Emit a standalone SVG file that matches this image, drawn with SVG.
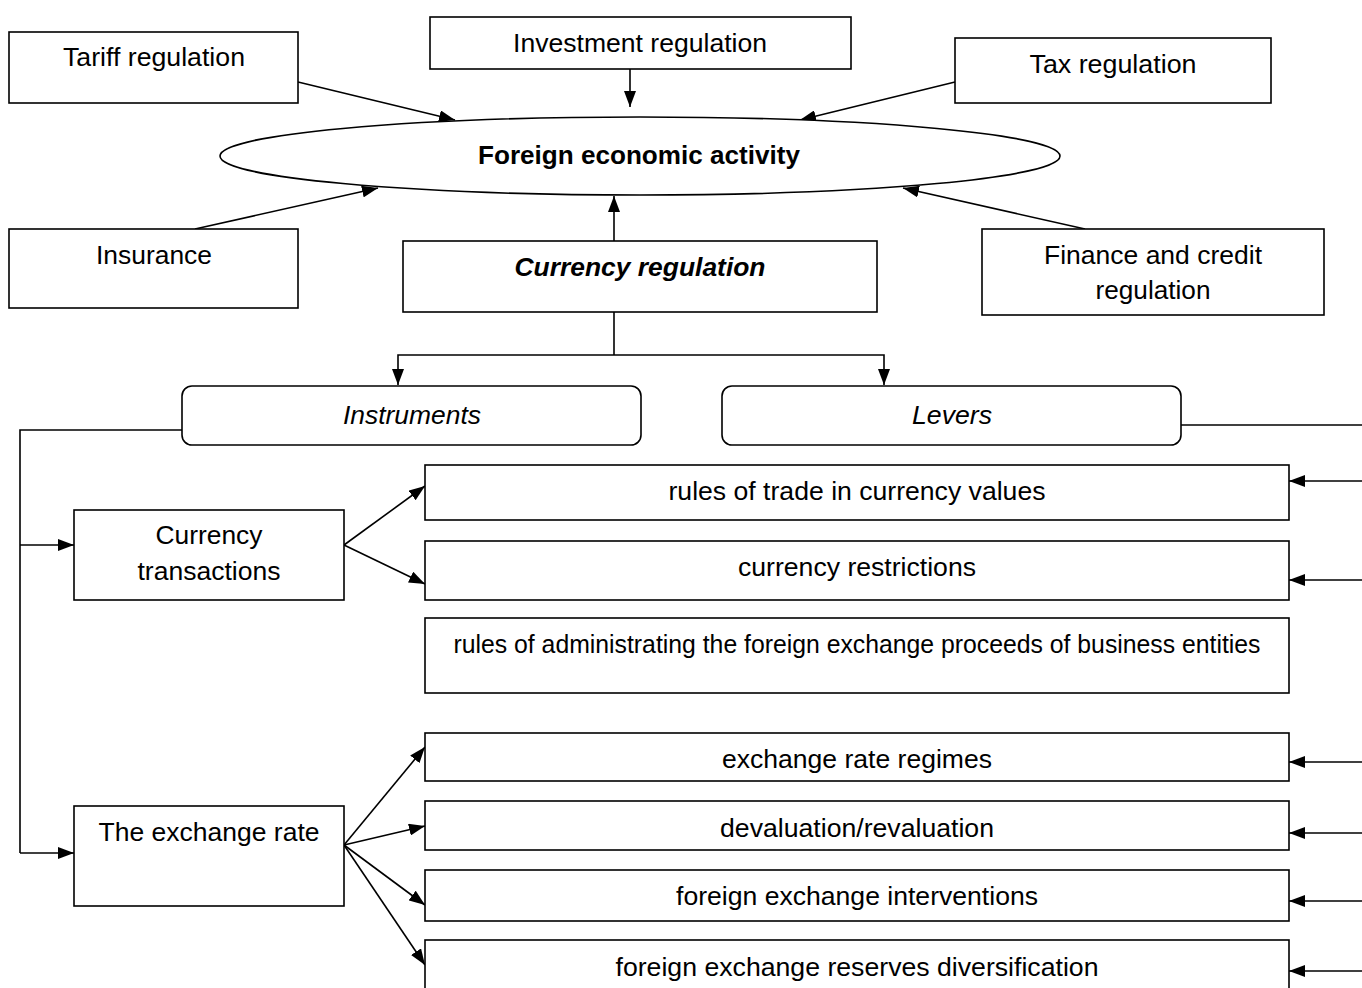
<svg xmlns="http://www.w3.org/2000/svg" width="1362" height="988" viewBox="0 0 1362 988">
<style>
.b{fill:#fff;stroke:#000;stroke-width:1.6}
.t{font-family:"Liberation Sans",Arial,sans-serif;font-size:25px;fill:#000;text-anchor:middle}
.c{fill:none;stroke:#000;stroke-width:1.6}
</style>
<defs>
<marker id="a" viewBox="0 0 16 12" refX="16" refY="6" markerWidth="16" markerHeight="12" markerUnits="userSpaceOnUse" orient="auto">
<path d="M0,0L16,6L0,12z" fill="#000"/>
</marker>
</defs>
<rect width="1362" height="988" fill="#fff"/>
<g id="connectors">
<path class="c" d="M298,82L455,120" marker-end="url(#a)"/>
<path class="c" d="M630,69L630,107" marker-end="url(#a)"/>
<path class="c" d="M955,82L800,120" marker-end="url(#a)"/>
<path class="c" d="M195,229L378,188" marker-end="url(#a)"/>
<path class="c" d="M614,241L614,196" marker-end="url(#a)"/>
<path class="c" d="M1085,229L903,188" marker-end="url(#a)"/>
<path class="c" d="M614,312L614,355"/>
<path class="c" d="M614,355L398,355L398,385" marker-end="url(#a)"/>
<path class="c" d="M614,355L884,355L884,385" marker-end="url(#a)"/>
<path class="c" d="M182,430L20,430L20,853"/>
<path class="c" d="M20,545L74,545" marker-end="url(#a)"/>
<path class="c" d="M20,853L74,853" marker-end="url(#a)"/>
<path class="c" d="M1181,425L1362,425"/>
<path class="c" d="M344,545L425,486" marker-end="url(#a)"/>
<path class="c" d="M344,545L425,584" marker-end="url(#a)"/>
<path class="c" d="M344,845L425,747" marker-end="url(#a)"/>
<path class="c" d="M344,845L425,826" marker-end="url(#a)"/>
<path class="c" d="M344,845L425,905" marker-end="url(#a)"/>
<path class="c" d="M344,845L425,965" marker-end="url(#a)"/>
<path class="c" d="M1362,481L1289,481" marker-end="url(#a)"/>
<path class="c" d="M1362,580L1289,580" marker-end="url(#a)"/>
<path class="c" d="M1362,762L1289,762" marker-end="url(#a)"/>
<path class="c" d="M1362,833L1289,833" marker-end="url(#a)"/>
<path class="c" d="M1362,901L1289,901" marker-end="url(#a)"/>
<path class="c" d="M1362,971L1289,971" marker-end="url(#a)"/>
</g>
<g id="fea"><ellipse class="b" cx="640" cy="156" rx="420" ry="39"/><text class="t" x="639" y="164" font-weight="bold" textLength="322" lengthAdjust="spacingAndGlyphs">Foreign economic activity</text></g>
<g id="tariff"><rect class="b" x="9" y="32" width="289" height="71"/><text class="t" x="154" y="66" textLength="182" lengthAdjust="spacingAndGlyphs">Tariff regulation</text></g>
<g id="investment"><rect class="b" x="430" y="17" width="421" height="52"/><text class="t" x="640" y="52" textLength="254" lengthAdjust="spacingAndGlyphs">Investment regulation</text></g>
<g id="tax"><rect class="b" x="955" y="38" width="316" height="65"/><text class="t" x="1113" y="73" textLength="167" lengthAdjust="spacingAndGlyphs">Tax regulation</text></g>
<g id="insurance"><rect class="b" x="9" y="229" width="289" height="79"/><text class="t" x="154" y="264" textLength="116" lengthAdjust="spacingAndGlyphs">Insurance</text></g>
<g id="currency"><rect class="b" x="403" y="241" width="474" height="71"/><text class="t" x="640" y="276" font-weight="bold" font-style="italic" textLength="251" lengthAdjust="spacingAndGlyphs">Currency regulation</text></g>
<g id="finance"><rect class="b" x="982" y="229" width="342" height="86"/><text class="t" x="1153" y="264" textLength="218" lengthAdjust="spacingAndGlyphs">Finance and credit</text><text class="t" x="1153" y="299" textLength="115" lengthAdjust="spacingAndGlyphs">regulation</text></g>
<g id="instruments"><rect class="b" x="182" y="386" width="459" height="59" rx="10"/><text class="t" x="412" y="424" font-style="italic" textLength="138" lengthAdjust="spacingAndGlyphs">Instruments</text></g>
<g id="levers"><rect class="b" x="722" y="386" width="459" height="59" rx="10"/><text class="t" x="952" y="424" font-style="italic" textLength="80" lengthAdjust="spacingAndGlyphs">Levers</text></g>
<g id="ctrans"><rect class="b" x="74" y="510" width="270" height="90"/><text class="t" x="209" y="544" textLength="107" lengthAdjust="spacingAndGlyphs">Currency</text><text class="t" x="209" y="580" textLength="143" lengthAdjust="spacingAndGlyphs">transactions</text></g>
<g id="erate"><rect class="b" x="74" y="806" width="270" height="100"/><text class="t" x="209" y="841" textLength="221" lengthAdjust="spacingAndGlyphs">The exchange rate</text></g>
<g id="l1"><rect class="b" x="425" y="465" width="864" height="55"/><text class="t" x="857" y="500" textLength="377" lengthAdjust="spacingAndGlyphs">rules of trade in currency values</text></g>
<g id="l2"><rect class="b" x="425" y="541" width="864" height="59"/><text class="t" x="857" y="576" textLength="238" lengthAdjust="spacingAndGlyphs">currency restrictions</text></g>
<g id="l3"><rect class="b" x="425" y="618" width="864" height="75"/><text class="t" x="857" y="653" textLength="807" lengthAdjust="spacingAndGlyphs">rules of administrating the foreign exchange proceeds of business entities</text></g>
<g id="l4"><rect class="b" x="425" y="733" width="864" height="48"/><text class="t" x="857" y="768" textLength="270" lengthAdjust="spacingAndGlyphs">exchange rate regimes</text></g>
<g id="l5"><rect class="b" x="425" y="801" width="864" height="49"/><text class="t" x="857" y="837" textLength="274" lengthAdjust="spacingAndGlyphs">devaluation/revaluation</text></g>
<g id="l6"><rect class="b" x="425" y="870" width="864" height="51"/><text class="t" x="857" y="905" textLength="362" lengthAdjust="spacingAndGlyphs">foreign exchange interventions</text></g>
<g id="l7"><rect class="b" x="425" y="940" width="864" height="60"/><text class="t" x="857" y="976" textLength="483" lengthAdjust="spacingAndGlyphs">foreign exchange reserves diversification</text></g>
</svg>
